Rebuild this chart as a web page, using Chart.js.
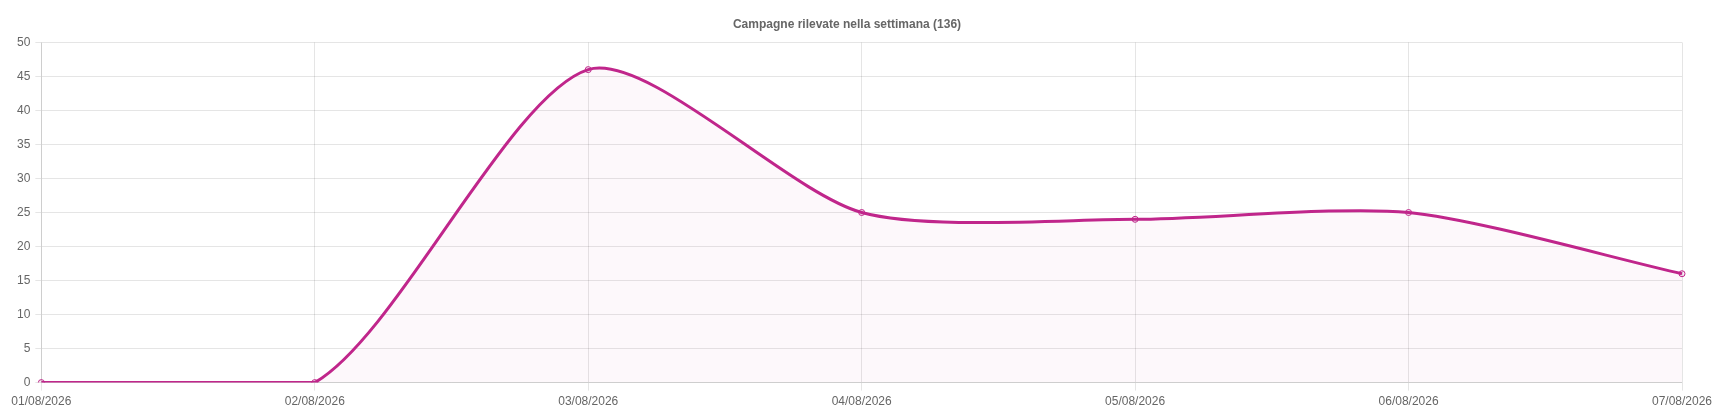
<!DOCTYPE html>
<html>
<head>
<meta charset="utf-8">
<script src="https://cdn.jsdelivr.net/npm/chart.js@4/dist/chart.umd.min.js"></script>
<style>
  html, body { margin: 0; padding: 0; background: #fff; }
  #wrap { width: 1720px; height: 417px; position: relative; }
</style>
</head>
<body>
<div id="wrap"><canvas id="weekChart"></canvas></div>
<script>
// Dati della settimana
const days = ['01/08/2026', '02/08/2026', '03/08/2026', '04/08/2026', '05/08/2026', '06/08/2026', '07/08/2026'];
const campaigns = [0, 0, 46, 25, 24, 25, 16];
const yTicks = [0, 5, 10, 15, 20, 25, 30, 35, 40, 45, 50];

const total = campaigns.reduce((a, b) => a + b, 0);
const lineColor = '#c0268b';

Chart.defaults.font.family = "'Liberation Sans', Arial, sans-serif";
Chart.defaults.color = '#666';

const ctx = document.getElementById('weekChart').getContext('2d');
new Chart(ctx, {
    type: 'line',
    data: {
        labels: days,
        datasets: [{
            label: 'Campagne',
            data: campaigns,
            borderColor: lineColor,
            borderWidth: 3,
            backgroundColor: 'rgba(192, 38, 139, 0.03)',
            fill: true,
            tension: 0.25,
            pointRadius: 3,
            pointBorderWidth: 1,
            pointBorderColor: lineColor,
            pointBackgroundColor: 'rgba(192, 38, 139, 0.08)'
        }]
    },
    options: {
        responsive: true,
        maintainAspectRatio: false,
        animation: false,
        layout: { padding: { left: 12, right: 38, top: 0, bottom: 4 } },
        plugins: {
            legend: { display: false },
            tooltip: { enabled: false },
            title: {
                display: true,
                text: 'Campagne rilevate nella settimana (' + total + ')',
                color: '#666',
                font: { size: 12, weight: 'bold' },
                padding: { top: 17, bottom: 11 }
            }
        },
        scales: {
            x: {
                grid: { color: 'rgba(0,0,0,0.1)', tickLength: 8 },
                ticks: { font: { size: 12 }, maxRotation: 0, padding: 4 }
            },
            y: {
                min: 0,
                max: 50,
                afterBuildTicks: axis => { axis.ticks = yTicks.map(v => ({ value: v })); },
                grid: { color: 'rgba(0,0,0,0.1)', tickLength: 6 },
                ticks: { font: { size: 12 }, padding: 5 }
            }
        }
    }
});
</script>
</body>
</html>
